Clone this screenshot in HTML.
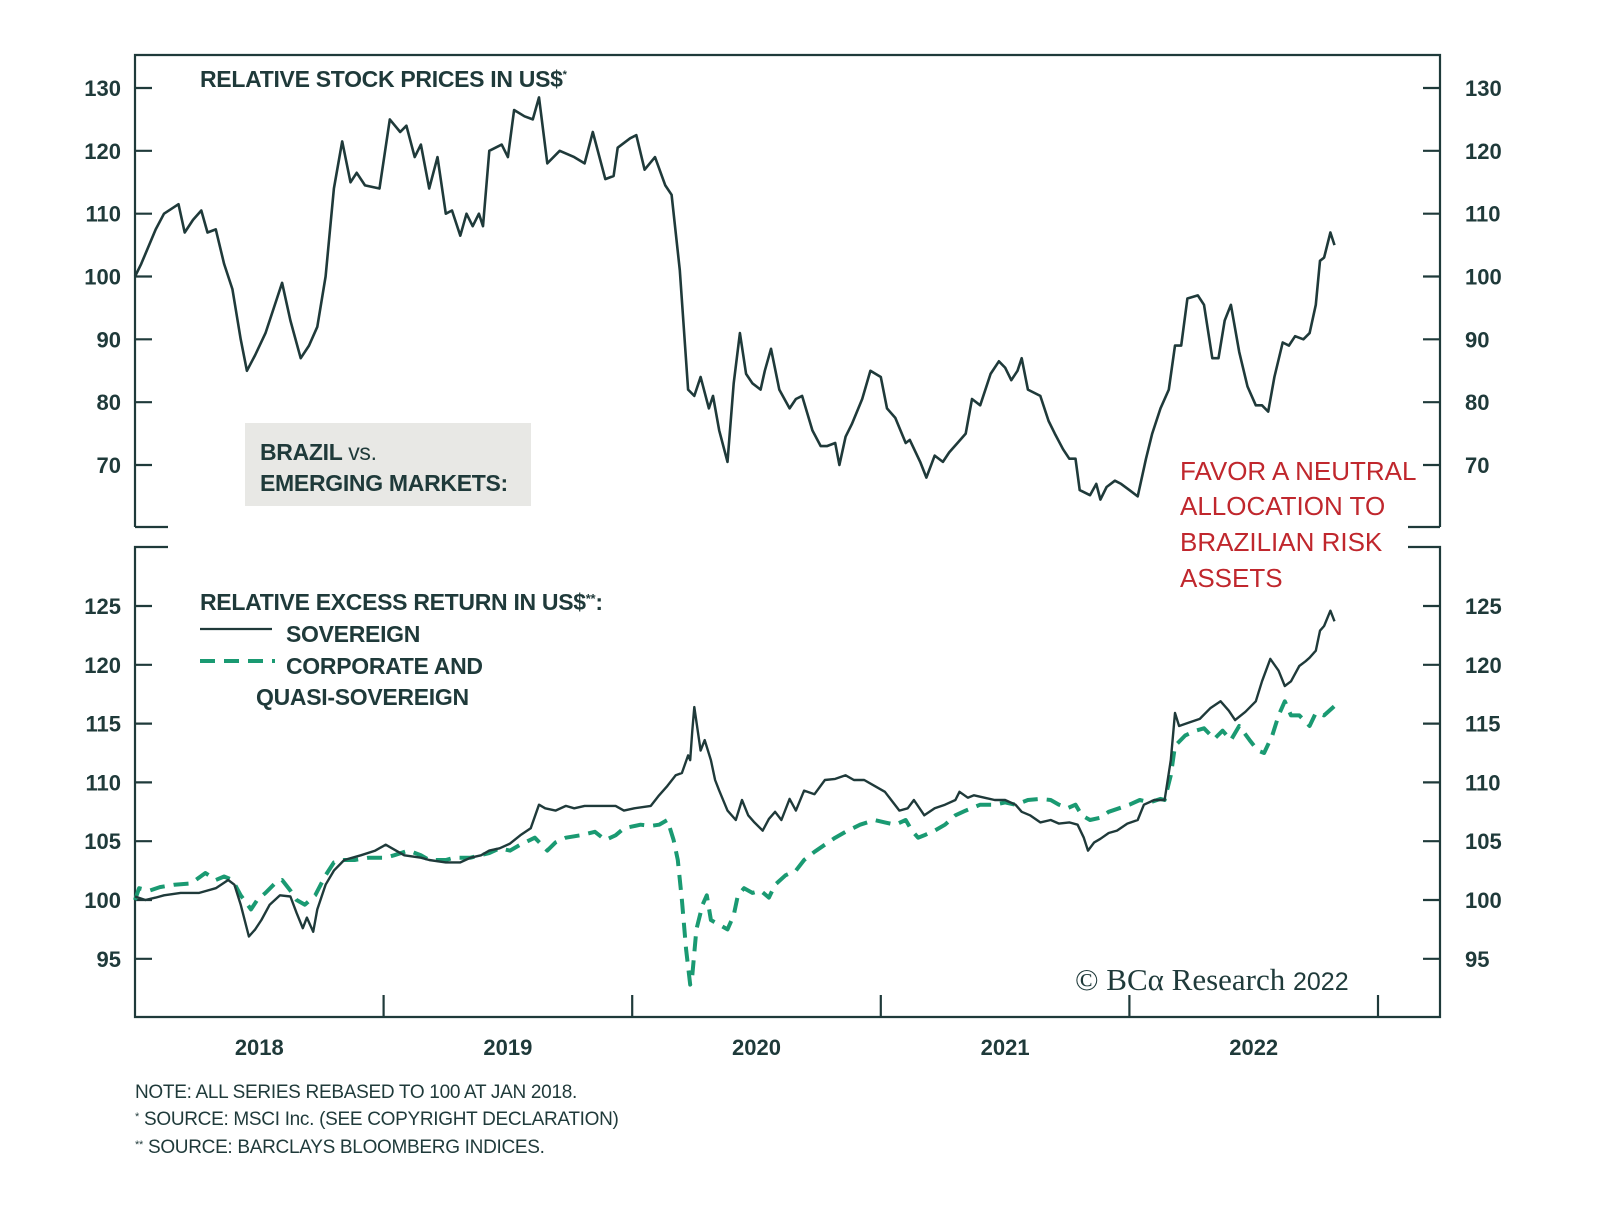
<!DOCTYPE html>
<html><head><meta charset="utf-8">
<style>
html,body{margin:0;padding:0;background:#fff;}
svg{display:block;}
text{font-family:"Liberation Sans",sans-serif;fill:#1f3a3a;}
</style></head>
<body>
<svg id="chart" width="1600" height="1205" viewBox="0 0 1600 1205" xmlns="http://www.w3.org/2000/svg">
<g id="frame" stroke="#1f3a3a" stroke-width="2.2" fill="none">
  <path d="M135 527 L135 55 L1440 55 L1440 527 M135 527 L168 527 M1408 527 L1440 527"/>
  <path d="M168 547 L135 547 L135 1017 L1440 1017 L1440 547 L1408 547"/>
</g>
<rect x="245" y="423" width="286" height="83" fill="#e8e8e5"/>
<text x="260" y="460" font-size="23" letter-spacing="-0.3" font-weight="bold">BRAZIL <tspan font-weight="normal">vs.</tspan></text>
<text x="260" y="491" font-size="23" letter-spacing="-0.3" font-weight="bold">EMERGING MARKETS:</text>
<text x="200" y="87" font-size="23" letter-spacing="-0.3" font-weight="bold">RELATIVE STOCK PRICES IN US$<tspan font-size="11" dy="-9">*</tspan></text>
<text x="200" y="610" font-size="23" letter-spacing="-0.3" font-weight="bold">RELATIVE EXCESS RETURN IN US$<tspan font-size="13" dy="-7">**</tspan><tspan dy="7">:</tspan></text>
<line x1="200" y1="629" x2="272" y2="629" stroke="#1f3a3a" stroke-width="2.2"/>
<text x="286" y="642" font-size="23" letter-spacing="-0.3" font-weight="bold">SOVEREIGN</text>
<line x1="200" y1="661" x2="275" y2="661" stroke="#1a9a72" stroke-width="4" stroke-dasharray="15,9"/>
<text x="286" y="674" font-size="23" letter-spacing="-0.3" font-weight="bold">CORPORATE AND</text>
<text x="256" y="705" font-size="23" letter-spacing="-0.3" font-weight="bold">QUASI-SOVEREIGN</text>
<g font-size="26">
<text x="1180" y="480" style="fill:#c0272d">FAVOR A NEUTRAL</text>
<text x="1180" y="515" style="fill:#c0272d">ALLOCATION TO</text>
<text x="1180" y="551" style="fill:#c0272d">BRAZILIAN RISK</text>
<text x="1180" y="587" style="fill:#c0272d">ASSETS</text>
</g>
<text x="1075" y="990" font-size="31" style="font-family:'Liberation Serif',serif">© BCα Research <tspan font-size="25" style="font-family:'Liberation Sans',sans-serif">2022</tspan></text>
<g font-size="19" letter-spacing="-0.3">
<text x="135" y="1098">NOTE: ALL SERIES REBASED TO 100 AT JAN 2018.</text>
<text x="135" y="1125"><tspan font-size="11" dy="-5">*</tspan><tspan dy="5"> SOURCE: MSCI Inc. (SEE COPYRIGHT DECLARATION)</tspan></text>
<text x="135" y="1153"><tspan font-size="11" dy="-5">**</tspan><tspan dy="5"> SOURCE: BARCLAYS BLOOMBERG INDICES.</tspan></text>
</g>
<g id="axes"></g>
<g id="series"></g>
</svg>
<script>
// months since Jan 2018
const topMonths=[0,0.3,1.0,1.4,2.1,2.4,2.8,3.2,3.5,3.9,4.3,4.7,5.1,5.4,5.8,6.3,6.8,7.1,7.5,8.0,8.4,8.8,9.2,9.6,10.0,10.4,10.7,11.1,11.8,12.3,12.8,13.1,13.5,13.8,14.2,14.6,15.0,15.3,15.7,16.0,16.3,16.6,16.8,17.1,17.7,18.0,18.3,18.8,19.2,19.5,19.9,20.5,21.2,21.7,22.1,22.7,23.1,23.3,23.9,24.2,24.6,25.1,25.6,25.9,26.3,26.7,27.0,27.3,27.7,27.9,28.2,28.6,28.9,29.2,29.5,29.8,30.2,30.4,30.7,31.1,31.6,31.9,32.2,32.7,33.1,33.4,33.8,34.0,34.3,34.6,35.1,35.5,36.0,36.3,36.7,37.2,37.4,37.9,38.2,38.6,39.0,39.3,39.7,40.1,40.4,40.8,41.3,41.7,42.0,42.3,42.6,42.8,43.1,43.7,44.1,44.4,44.8,45.1,45.4,45.6,46.1,46.4,46.6,46.9,47.3,47.6,48.0,48.4,48.8,49.1,49.5,49.9,50.2,50.5,50.8,51.3,51.6,52.0,52.3,52.6,52.9,53.3,53.7,54.1,54.4,54.7,55.0,55.4,55.7,56.0,56.4,56.7,57.0,57.2,57.4,57.7,57.9];
const topValues=[100,102,107.5,110,111.5,107,109,110.5,107,107.5,102,98,90,85,87.5,91,96,99,93,87,89,92,100,114,121.5,115,116.5,114.5,114,125,123,124,119,121,114,119,110,110.5,106.5,110,108,110,108,120,121,119,126.5,125.5,125,128.5,118,120,119,118,123,115.5,116,120.5,122,122.5,117,119,114.5,113,101,82,81,84,79,81,75.5,70.5,83,91,84.5,83,82,85,88.5,82,79,80.5,81,75.5,73,73,73.5,70,74.5,76.5,80.5,85,84,79,77.5,73.5,74,70.5,68,71.5,70.5,72,73.5,75,80.5,79.5,84.5,86.5,85.5,83.5,85,87,82,81,77,75,72.5,71,71,66,65.2,67,64.5,66.5,67.5,67,66,65,71,75,79,82,89,89,96.5,97,95.5,87,87,93,95.5,88,82.5,79.5,79.5,78.5,84,89.5,89,90.5,90,91,95.5,102.5,103,107,105];
const sovMonths=[0,0.5,1.0,1.4,2.2,3.1,3.9,4.5,4.8,5.1,5.5,5.8,6.1,6.5,7.0,7.5,7.8,8.1,8.3,8.6,8.8,9.2,9.6,10.1,10.9,11.6,12.1,12.5,13.0,13.8,14.2,15.0,15.7,16.2,16.7,17.1,17.6,18.1,18.6,19.1,19.5,19.8,20.3,20.8,21.2,21.7,22.4,23.2,23.6,24.1,24.9,25.3,25.7,26.1,26.4,26.7,26.8,26.9,27.0,27.3,27.5,27.8,28.0,28.2,28.6,29.0,29.3,29.6,29.9,30.3,30.6,30.9,31.2,31.6,31.9,32.3,32.8,33.3,33.8,34.3,34.7,35.2,35.7,36.2,36.5,36.9,37.3,37.6,38.1,38.6,39.1,39.6,39.8,40.2,40.5,41.0,41.5,42.0,42.5,42.8,43.2,43.7,44.2,44.6,45.1,45.5,45.8,46.0,46.3,46.6,47.0,47.4,47.9,48.4,48.7,49.2,49.7,50.0,50.2,50.4,50.9,51.4,51.9,52.4,52.8,53.1,53.6,54.1,54.4,54.8,55.2,55.5,55.8,56.2,56.5,56.7,57.0,57.2,57.4,57.7,57.9];
const sovValues=[100.3,100,100.2,100.4,100.6,100.6,101,101.7,101.3,99.6,96.9,97.5,98.3,99.6,100.4,100.3,98.9,97.6,98.5,97.3,99.2,101.3,102.5,103.4,103.8,104.2,104.7,104.3,103.8,103.6,103.4,103.2,103.2,103.6,103.8,104.2,104.4,104.8,105.5,106.1,108.1,107.8,107.6,108,107.8,108,108,108,107.6,107.8,108,108.9,109.7,110.6,110.8,112.3,111.9,114.4,116.4,112.7,113.6,111.9,110.2,109.3,107.6,106.8,108.5,107.2,106.6,105.9,106.9,107.5,106.8,108.6,107.6,109.3,109,110.2,110.3,110.6,110.2,110.2,109.7,109.2,108.5,107.6,107.8,108.5,107.2,107.8,108.1,108.5,109.2,108.7,108.9,108.7,108.5,108.5,108.1,107.5,107.2,106.6,106.8,106.5,106.6,106.4,105.3,104.2,104.9,105.2,105.7,105.9,106.5,106.8,108.1,108.5,108.5,111.9,115.9,114.8,115.1,115.4,116.3,116.9,116.1,115.3,116,116.9,118.6,120.5,119.5,118.2,118.6,119.9,120.3,120.6,121.2,122.9,123.3,124.6,123.7];
const corpMonths=[0,0.2,0.7,1.2,1.9,2.7,3.4,3.9,4.3,4.7,5.1,5.6,5.9,6.3,6.8,7.1,7.5,7.8,8.2,8.7,9.2,9.6,10.1,10.6,11.3,12.1,12.5,13.2,13.8,14.2,15.0,15.4,16.2,17.1,17.6,18.1,18.6,19.3,19.9,20.3,20.8,21.5,22.2,22.7,23.2,23.6,24.4,24.9,25.3,25.7,26.0,26.2,26.4,26.6,26.8,26.9,27.1,27.4,27.6,27.8,28.2,28.6,28.9,29.1,29.4,29.8,30.2,30.6,30.9,31.4,31.9,32.3,32.8,33.3,33.8,34.3,35.0,35.7,36.2,36.7,37.2,37.5,37.8,38.1,38.6,39.1,39.6,40.1,40.8,41.5,42.0,42.5,43.1,43.7,44.2,44.6,45.0,45.4,45.7,46.1,46.6,47.0,47.5,48.0,48.5,49.0,49.5,49.7,50.0,50.2,50.7,51.2,51.6,52.1,52.5,52.9,53.3,53.8,54.2,54.5,54.9,55.2,55.5,55.8,56.2,56.7,57.0,57.4,57.9];
const corpValues=[100,101,100.8,101.1,101.3,101.4,102.3,101.7,102,101.7,100.4,99.2,100,100.6,101.5,101.7,100.8,100,99.6,100.4,102.1,103.2,103.4,103.4,103.6,103.6,103.8,104.2,103.8,103.4,103.4,103.6,103.6,104,104.4,104.2,104.7,105.3,104.2,104.9,105.3,105.5,105.8,105.1,105.5,106.1,106.4,106.3,106.4,106.8,105.1,103.4,100,95.8,92.8,93.6,97.5,99.6,100.4,98.3,97.9,97.5,98.7,100.4,101,100.6,100.8,100.2,101.3,102.1,102.5,103.4,104.1,104.7,105.3,105.8,106.4,106.8,106.6,106.4,106.8,105.9,105.3,105.5,105.9,106.4,107.2,107.6,108.1,108.1,108.3,108.1,108.5,108.6,108.5,108.1,107.8,108.1,107.2,106.8,107,107.5,107.8,108.1,108.5,108.3,108.6,108.5,110.6,113.1,114,114.4,114.6,113.7,114.4,113.6,114.8,113.6,112.7,112.5,114,115.7,116.9,115.7,115.7,114.8,115.9,115.7,116.5];
const topTicks=[70,80,90,100,110,120,130];
const botTicks=[95,100,105,110,115,120,125];
const yearLabels=["2018","2019","2020","2021","2022"];

const NS="http://www.w3.org/2000/svg";
const X0=135,PXM=248.6/12;
const xOf=m=>X0+m*PXM;
const yTop=v=>88+(130-v)*(465-88)/60;
const yBot=v=>900-(v-100)*(900-606)/25;
const axes=document.getElementById('axes');
const series=document.getElementById('series');
function mk(tag,attrs,parent){const e=document.createElementNS(NS,tag);for(const k in attrs)e.setAttribute(k,attrs[k]);parent.appendChild(e);return e;}
function tickSet(ticks,yf,nm){
  ticks.forEach(t=>{
    const y=yf(t);
    const l=mk('path',{d:`M135 ${y} L152 ${y} M1423 ${y} L1440 ${y}`,stroke:'#1f3a3a','stroke-width':2.2},axes);
    
    
    const a=mk('text',{x:121,y:y+8,'text-anchor':'end','font-size':22,'font-weight':'bold'},axes);a.textContent=t;
    
    
    const b=mk('text',{x:1465,y:y+8,'font-size':22,'font-weight':'bold'},axes);b.textContent=t;
    
    
  });
}
tickSet(topTicks,yTop,'top-y');
tickSet(botTicks,yBot,'bottom-y');
yearLabels.forEach((yr,i)=>{
  const xt=xOf((i+1)*12);
  const l=mk('line',{x1:xt,y1:995,x2:xt,y2:1017,stroke:'#1f3a3a','stroke-width':2.2},axes);
  
  
  const t=mk('text',{x:xOf(i*12+6),y:1055,'text-anchor':'middle','font-size':22,'font-weight':'bold'},axes);t.textContent=yr;
  
  
});
function line(ms,vs,yf,attrs,nm){
  const d=ms.map((m,i)=>(i?'L':'M')+xOf(m).toFixed(1)+' '+yf(vs[i]).toFixed(1)).join(' ');
  const p=mk('path',Object.assign({d:d,fill:'none','stroke-linejoin':'round'},attrs),series);
  
  
}
line(topMonths,topValues,yTop,{stroke:'#1f3a3a','stroke-width':2.6},'relative-stock-price-line');
line(corpMonths,corpValues,yBot,{stroke:'#1a9a72','stroke-width':4,'stroke-dasharray':'15,9'},'corporate-quasi-sovereign-line');
line(sovMonths,sovValues,yBot,{stroke:'#1f3a3a','stroke-width':2.4},'sovereign-line');
</script>
</body></html>
